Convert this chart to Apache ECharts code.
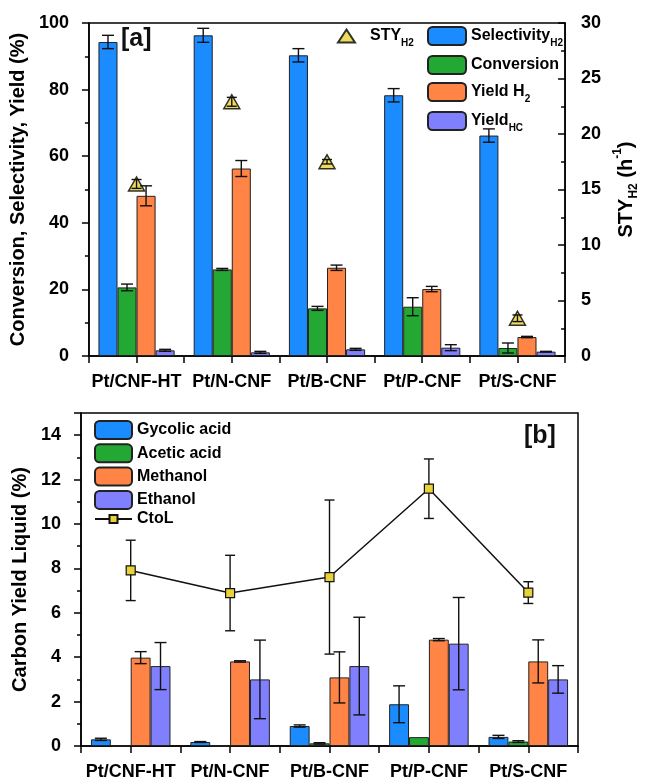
<!DOCTYPE html>
<html><head><meta charset="utf-8">
<script src="https://cdn.jsdelivr.net/npm/echarts@6/dist/echarts.min.js"></script>
<style>html,body{margin:0;padding:0;background:#fff}#c{width:648px;height:781px}</style>
</head><body><div id="c"></div>
<script>
const categories = ['Pt/CNF-HT', 'Pt/N-CNF', 'Pt/B-CNF', 'Pt/P-CNF', 'Pt/S-CNF'];
// Panel [a]
const selectivityH2 = [94.3, 96.3, 90.3, 78.3, 66.2];
const selectivityH2Err = [2.0, 2.1, 2.0, 2.0, 2.0];
const conversion = [20.6, 26.0, 14.3, 14.8, 2.4];
const conversionErr = [1.0, 0.3, 0.6, 2.7, 1.5];
const yieldH2 = [48.1, 56.3, 26.5, 20.1, 5.7];
const yieldH2Err = [3.0, 2.4, 0.8, 0.8, 0.2];
const yieldHC = [1.7, 1.1, 2.0, 2.5, 1.3];
const yieldHCErr = [0.3, 0.3, 0.3, 0.9, 0.1];
const styH2 = [15.5, 22.9, 17.5, null, 3.4];
const styH2Err = [0.4, 0.4, 0.2, null, 0.3];
// Panel [b]
const glycolicAcid = [0.30, 0.18, 0.90, 1.88, 0.41];
const glycolicAcidErr = [0.05, 0.02, 0.05, 0.83, 0.07];
const aceticAcid = [0, 0, 0.12, 0.40, 0.20];
const aceticAcidErr = [0, 0, 0.03, 0, 0.04];
const methanol = [3.98, 3.81, 3.09, 4.79, 3.81];
const methanolErr = [0.27, 0.03, 1.15, 0.05, 0.97];
const ethanol = [3.6, 3.0, 3.6, 4.61, 3.0];
const ethanolErr = [1.06, 1.77, 2.2, 2.08, 0.62];
const ctoL = [7.91, 6.89, 7.61, 11.59, 6.91];
const ctoLErr = [1.36, 1.7, 3.47, 1.34, 0.49];

const C_BLUE = '#1A8CFF', C_GREEN = '#22A833', C_ORANGE = '#FF8445', C_PURPLE = '#8080FF', C_YELLOW = '#E8D23A';
const FONT = "'Liberation Sans', Arial, sans-serif";

function errSeries(vals, errs, barIdx, nBars, xi, yi, capHalf) {
  return {
    type: 'custom', xAxisIndex: xi, yAxisIndex: yi, z: 10, silent: true,
    data: vals.map((v, i) => [i, v == null ? 0 : v, errs[i] == null ? 0 : errs[i], v == null ? 0 : 1]),
    encode: { x: 0, y: 1 },
    renderItem: function (params, api) {
      const v = api.value(1), e = api.value(2), ok = api.value(3);
      if (!ok || !e) return null;
      const band = api.size([1, 0])[0];
      let off = 0;
      if (barIdx >= 0) { const total = band * 0.8; const bw = total / nBars; off = -total / 2 + (barIdx + 0.5) * bw; }
      const hi = api.coord([api.value(0), v + e]);
      const lo = api.coord([api.value(0), v - e]);
      const x = hi[0] + off;
      const st = { stroke: '#111', lineWidth: 1.4 };
      return { type: 'group', children: [
        { type: 'line', shape: { x1: x, y1: hi[1], x2: x, y2: lo[1] }, style: st },
        { type: 'line', shape: { x1: x - capHalf, y1: hi[1], x2: x + capHalf, y2: hi[1] }, style: st },
        { type: 'line', shape: { x1: x - capHalf, y1: lo[1], x2: x + capHalf, y2: lo[1] }, style: st }
      ] };
    }
  };
}
function bar(name, data, color, xi, yi) {
  return { name: name, type: 'bar', data: data, xAxisIndex: xi, yAxisIndex: yi,
    barCategoryGap: '20%', barGap: '0%',
    itemStyle: { color: color, borderColor: '#222', borderWidth: 1 } };
}
const axisLineStyle = { color: '#000', width: 1.5 };
function catAxis(gi, centers) {
  return {
    type: 'category', gridIndex: gi, data: categories, position: 'bottom',
    axisLine: { show: !centers, lineStyle: axisLineStyle },
    axisTick: { show: true, alignWithLabel: !!centers, length: 7, lineStyle: axisLineStyle },
    axisLabel: { show: !centers, interval: 0, color: '#000', fontSize: 18, fontWeight: 'bold', fontFamily: FONT, margin: 17 },
    splitLine: { show: false }
  };
}
const subRich = {
  m: { fontSize: 16, fontWeight: 'bold', fontFamily: FONT, color: '#000' },
  s: { fontSize: 10, fontWeight: 'bold', fontFamily: FONT, color: '#000', verticalAlign: 'bottom', padding: [0, 0, -4, 0] }
};
const legendNames = {
  'Selectivity': '{m|Selectivity}{s|H2}',
  'Conversion': '{m|Conversion}',
  'Yield H2': '{m|Yield H}{s|2}',
  'Yield HC': '{m|Yield}{s|HC}',
  'STY': '{m|STY}{s|H2}',
  'Gycolic acid': '{m|Gycolic acid}',
  'Acetic acid': '{m|Acetic acid}',
  'Methanol': '{m|Methanol}',
  'Ethanol': '{m|Ethanol}',
  'CtoL': '{m|CtoL}'
};

const option = {
  animation: false,
  backgroundColor: '#fff',
  textStyle: { fontFamily: FONT },
  grid: [
    { left: 81, right: 70, top: 23, height: 333, show: true, borderColor: '#000', borderWidth: 1.5, backgroundColor: 'transparent' },
    { left: 81, right: 70, top: 413, height: 333, show: true, borderColor: '#000', borderWidth: 1.5, backgroundColor: 'transparent' }
  ],
  legend: [
    { data: ['Selectivity', 'Conversion', 'Yield H2', 'Yield HC'], orient: 'vertical', left: 427, top: 26, padding: 0,
      itemWidth: 38, itemHeight: 18, itemGap: 7, formatter: n => legendNames[n],
      textStyle: { rich: subRich }, selectedMode: false },
    { data: ['STY'], orient: 'vertical', left: 337, top: 28, padding: 0, itemWidth: 17, itemHeight: 13,
      formatter: n => legendNames[n], textStyle: { rich: subRich, padding: [0, 0, 0, 10] }, selectedMode: false },
    { data: ['Gycolic acid', 'Acetic acid', 'Methanol', 'Ethanol'], orient: 'vertical', left: 94, top: 420, padding: 0,
      itemWidth: 37, itemHeight: 18, itemGap: 3.3, formatter: n => legendNames[n],
      textStyle: { rich: subRich }, selectedMode: false },
    { data: ['CtoL'], orient: 'vertical', left: 94, top: 511, padding: 0,
      itemWidth: 37, itemHeight: 10, formatter: n => legendNames[n],
      textStyle: { rich: subRich }, selectedMode: false }
  ],
  xAxis: [catAxis(0, false), catAxis(0, true), catAxis(1, false), catAxis(1, true)],
  yAxis: [
    { type: 'value', gridIndex: 0, position: 'left', min: 0, max: 100, interval: 20,
      axisLine: { show: true, lineStyle: axisLineStyle },
      axisTick: { show: true, length: 7, lineStyle: axisLineStyle },
      minorTick: { show: true, splitNumber: 2, length: 4, lineStyle: { color: '#000', width: 1.5 } },
      splitLine: { show: false },
      axisLabel: { color: '#000', fontSize: 18, fontWeight: 'bold', margin: 20 },
      name: 'Conversion, Selectivity, Yield (%)', nameLocation: 'middle', nameGap: 51,
      nameTextStyle: { color: '#000', fontSize: 20, fontWeight: 'bold' } },
    { type: 'value', gridIndex: 0, position: 'right', min: 0, max: 30, interval: 5,
      axisLine: { show: true, lineStyle: axisLineStyle },
      axisTick: { show: true, inside: true, length: 7, lineStyle: axisLineStyle },
      minorTick: { show: true, splitNumber: 2, length: 4, lineStyle: { color: '#000', width: 1.5 } },
      splitLine: { show: false },
      axisLabel: { color: '#000', fontSize: 18, fontWeight: 'bold', margin: 16 },
      name: '{t|STY}{s|H2}{t| (h}{p|-1}{t|)}', nameLocation: 'middle', nameGap: 49, nameRotate: 90,
      nameTextStyle: { rich: {
        t: { fontSize: 20, fontWeight: 'bold', color: '#000', fontFamily: FONT },
        s: { fontSize: 12, fontWeight: 'bold', color: '#000', fontFamily: FONT, verticalAlign: 'bottom', padding: [0, 0, -4, 0] },
        p: { fontSize: 12, fontWeight: 'bold', color: '#000', fontFamily: FONT, verticalAlign: 'top', padding: [-4, 0, 0, 0] }
      } } },
    { type: 'value', gridIndex: 1, position: 'left', min: 0, max: 15, interval: 2,
      axisLine: { show: true, lineStyle: axisLineStyle },
      axisTick: { show: true, length: 7, lineStyle: axisLineStyle },
      minorTick: { show: true, splitNumber: 2, length: 4, lineStyle: { color: '#000', width: 1.5 } },
      splitLine: { show: false },
      axisLabel: { color: '#000', fontSize: 18, fontWeight: 'bold', margin: 20, showMaxLabel: false },
      name: 'Carbon Yield Liquid (%)', nameLocation: 'middle', nameGap: 51,
      nameTextStyle: { color: '#000', fontSize: 20, fontWeight: 'bold' } }
  ],
  graphic: [
    { type: 'text', left: 121, top: 27, style: { text: '[a]', fontSize: 25, fontWeight: 'bold', fill: '#111', fontFamily: FONT } },
    { type: 'text', left: 524, top: 424, style: { text: '[b]', fontSize: 25, fontWeight: 'bold', fill: '#111', fontFamily: FONT } }
  ],
  series: [
    bar('Selectivity', selectivityH2, C_BLUE, 0, 0),
    bar('Conversion', conversion, C_GREEN, 0, 0),
    bar('Yield H2', yieldH2, C_ORANGE, 0, 0),
    bar('Yield HC', yieldHC, C_PURPLE, 0, 0),
    errSeries(selectivityH2, selectivityH2Err, 0, 4, 0, 0, 6),
    errSeries(conversion, conversionErr, 1, 4, 0, 0, 6),
    errSeries(yieldH2, yieldH2Err, 2, 4, 0, 0, 6),
    errSeries(yieldHC, yieldHCErr, 3, 4, 0, 0, 6),
    { name: 'STY', type: 'scatter', xAxisIndex: 0, yAxisIndex: 1, data: styH2, symbol: 'triangle', symbolSize: [16, 14],
      itemStyle: { color: C_YELLOW, borderColor: '#000', borderWidth: 1.5 }, z: 5 },
    errSeries(styH2, styH2Err, -1, 4, 0, 1, 5),
    bar('Gycolic acid', glycolicAcid, C_BLUE, 2, 2),
    bar('Acetic acid', aceticAcid, C_GREEN, 2, 2),
    bar('Methanol', methanol, C_ORANGE, 2, 2),
    bar('Ethanol', ethanol, C_PURPLE, 2, 2),
    errSeries(glycolicAcid, glycolicAcidErr, 0, 4, 2, 2, 6),
    errSeries(aceticAcid, aceticAcidErr, 1, 4, 2, 2, 6),
    errSeries(methanol, methanolErr, 2, 4, 2, 2, 6),
    errSeries(ethanol, ethanolErr, 3, 4, 2, 2, 6),
    { name: 'CtoL', type: 'line', xAxisIndex: 2, yAxisIndex: 2, data: ctoL, symbol: 'rect', symbolSize: 9,
      lineStyle: { color: '#111', width: 1.5 }, itemStyle: { color: C_YELLOW, borderColor: '#111', borderWidth: 1.2 }, z: 12 },
    errSeries(ctoL, ctoLErr, -1, 4, 2, 2, 5)
  ]
};
const chart = echarts.init(document.getElementById('c'), null, { renderer: 'canvas' });
chart.setOption(option);
</script>
</body></html>
